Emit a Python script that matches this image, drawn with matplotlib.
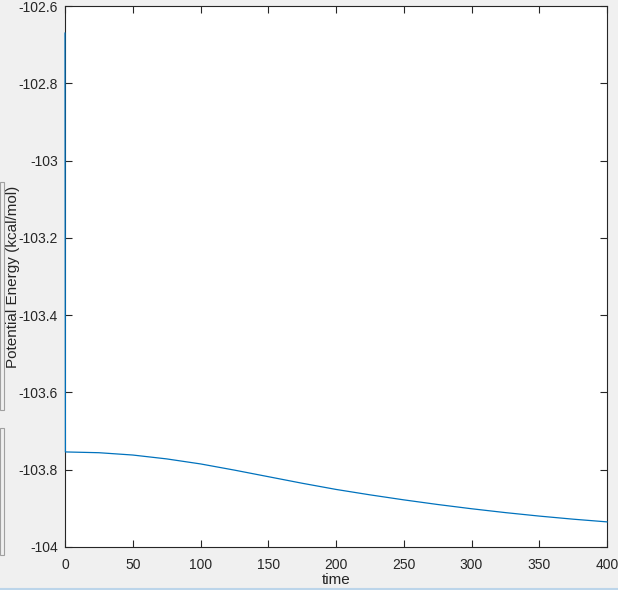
import numpy as np
import matplotlib.pyplot as plt
from matplotlib.patches import Rectangle
from matplotlib.lines import Line2D

plt.rcParams['font.family'] = ['Liberation Sans', 'DejaVu Sans']

# simulation time and potential energy
tempo = [0, 0.3, 25, 50, 75, 100, 125, 150, 175, 200, 225, 250,
         275, 300, 325, 350, 375, 400]
energia = [-102.67, -103.754, -103.756, -103.762, -103.772, -103.785,
           -103.801, -103.818, -103.835, -103.851, -103.865, -103.878,
           -103.890, -103.901, -103.911, -103.920, -103.928, -103.935]

xticks = [0, 50, 100, 150, 200, 250, 300, 350, 400]
yticks = [-104, -103.8, -103.6, -103.4, -103.2, -103, -102.8, -102.6]
ytick_labels = ['-104', '-103.8', '-103.6', '-103.4', '-103.2', '-103', '-102.8', '-102.6']

fundo = '#f0f0f0'
eixo = '#262626'

fig = plt.figure(figsize=(6.18, 5.90), dpi=100, facecolor=fundo)
ax = fig.add_axes([65 / 618, 1 - 547 / 590, 542 / 618, 541 / 590])

ax.plot(tempo, energia, color='#0072BD', linewidth=0.9, clip_on=False, zorder=3)

ax.set_xlim(0, 400)
ax.set_ylim(-104, -102.6)
ax.set_xticks(xticks)
ax.set_yticks(yticks)
ax.set_yticklabels(ytick_labels)
ax.tick_params(direction='in', length=5, width=0.8, colors=eixo,
               labelsize=10, top=True, right=True)
ax.tick_params(axis='x', pad=8)
ax.tick_params(axis='y', pad=5)
for s in ax.spines.values():
    s.set_color(eixo)
    s.set_linewidth(0.8)

ax.set_xlabel('time', fontsize=11, color=eixo)
ax.set_ylabel('Potential Energy (kcal/mol)', fontsize=11, color=eixo)
ax.xaxis.set_label_coords(0.5, -(580 - 547) / 541, transform=ax.transAxes)
ax.yaxis.set_label_coords(-(65 - 13) / 542, 0.5)
ax.xaxis.label.set_va('center')
ax.yaxis.label.set_va('center')

# window leftovers on the left edge and bottom border
fig.patches.append(Rectangle((0, 1 - 410 / 590), 4 / 618, 228 / 590,
                             transform=fig.transFigure, facecolor=fundo,
                             edgecolor='#a0a0a0', linewidth=0.8, zorder=-1))
fig.patches.append(Rectangle((0, 1 - 555 / 590), 4 / 618, 127 / 590,
                             transform=fig.transFigure, facecolor=fundo,
                             edgecolor='#a0a0a0', linewidth=0.8, zorder=-1))
fig.lines.append(Line2D([0, 1], [1.5 / 590, 1.5 / 590], transform=fig.transFigure,
                        color='#bcd5ea', linewidth=1.5, zorder=-1))

fig.savefig('out.png', dpi=100, facecolor=fundo)
